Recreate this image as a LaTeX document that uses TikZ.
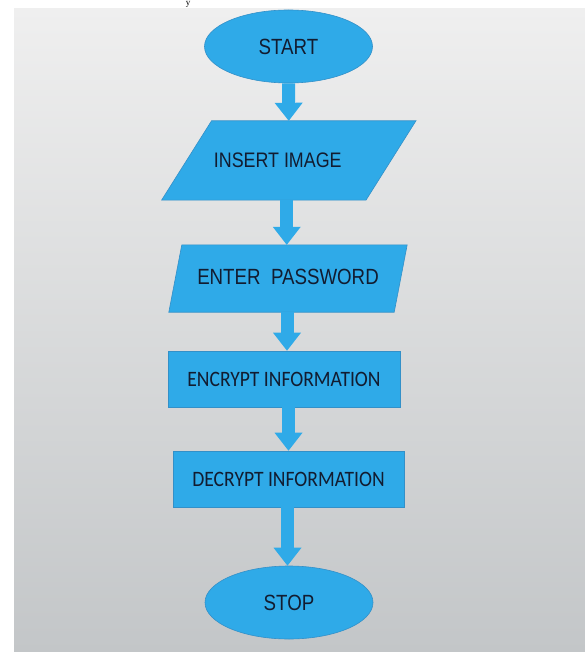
\documentclass[tikz,border=0pt]{standalone}
\usepackage{fontspec}
\usetikzlibrary{shapes.geometric,arrows.meta}
\newfontfamily\arialn[FakeStretch=0.85]{Liberation Sans}
\newfontfamily\calib[FakeStretch=0.89]{Carlito}
\newfontfamily\timesf{Liberation Serif}
\definecolor{boxblue}{HTML}{2FAAE8}
\definecolor{boxedge}{HTML}{3390C8}
\definecolor{txtcol}{HTML}{121C30}
\definecolor{bgtop}{HTML}{EFEFEF}
\definecolor{bgmid}{HTML}{DFE0E1}
\definecolor{bgbot}{HTML}{C3C6C8}
\pgfdeclarelayer{bg}
\pgfdeclarelayer{shp}
\pgfsetlayers{bg,shp,main}
\tikzset{
  flowfill/.style={fill=boxblue, draw=boxedge, line width=0.6pt},
  terminal/.style={flowfill, ellipse, minimum width=168pt, minimum height=73pt, inner sep=0pt,
    text=txtcol, font=\arialn\fontsize{22pt}{24pt}\selectfont},
  iobox/.style={rectangle, inner sep=0pt, text=txtcol, font=\arialn\fontsize{22pt}{24pt}\selectfont},
  procbox/.style={flowfill, rectangle, inner sep=0pt, minimum height=56pt, text=txtcol,
    font=\calib\fontsize{22pt}{24pt}\selectfont},
  flowarrow/.style={draw=boxblue, line width=13pt,
    -{Triangle[width=28pt,length=18pt,line width=0pt]}},
}
\begin{document}
\begin{tikzpicture}[x=1pt,y=-1pt]
\useasboundingbox (0,0) rectangle (585,652);
\begin{pgfonlayer}{bg}
  \fill[white] (0,0) rectangle (585,652);
  \shade[top color=bgtop, middle color=bgmid, bottom color=bgbot] (14,9) rectangle (585,652);
\end{pgfonlayer}
\node[font=\timesf\fontsize{9pt}{10pt}\selectfont, anchor=base, inner sep=0pt] (ytext) at (188,6) {y};

\node[terminal] (start) at (288.5,46.5) {START};
\node[iobox, minimum width=204pt, minimum height=79pt, font=\arialn\fontsize{21pt}{23pt}\selectfont]
  (insert) at (288.75,160.5) {\hspace*{-22pt}INSERT IMAGE};
\node[iobox, minimum width=225pt, minimum height=67pt] (enter) at (288,278.5) {\raisebox{3pt}{ENTER\ \ PASSWORD}};
\node[procbox, minimum width=232pt] (encrypt) at (284,379) {ENCRYPT INFORMATION};
\node[procbox, minimum width=231pt] (decrypt) at (288.5,479) {DECRYPT INFORMATION};
\node[terminal] (stop) at (289,602.5) {\raisebox{-4.5pt}{STOP}};

\begin{pgfonlayer}{shp}
  \draw[flowfill] ([xshift=25pt]insert.north west) -- ([xshift=25pt]insert.north east)
    -- ([xshift=-25pt]insert.south east) -- ([xshift=-25pt]insert.south west) -- cycle;
  \draw[flowfill] ([xshift=6.5pt]enter.north west) -- ([xshift=6.5pt]enter.north east)
    -- ([xshift=-6.5pt]enter.south east) -- ([xshift=-6.5pt]enter.south west) -- cycle;
\end{pgfonlayer}

\draw[flowarrow] (start.south) -- (insert.north);
\draw[flowarrow] ([xshift=-2pt]insert.south) -- ([xshift=-2pt]insert.south |- enter.north);
\draw[flowarrow] ([xshift=-1pt]enter.south) -- ([xshift=-1pt]enter.south |- encrypt.north);
\draw[flowarrow] (encrypt.south -| decrypt.north) -- (decrypt.north);
\draw[flowarrow] ([xshift=-1pt]decrypt.south) -- ([xshift=-1pt]decrypt.south |- stop.north);
\end{tikzpicture}
\end{document}
